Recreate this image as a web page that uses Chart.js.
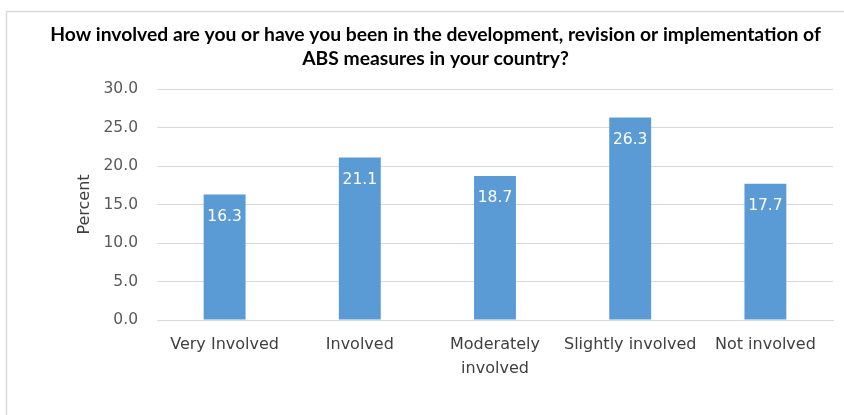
<!DOCTYPE html>
<html>
<head>
<meta charset="utf-8">
<script src="https://cdn.jsdelivr.net/npm/chart.js@4"></script>
<style>
  html, body { margin: 0; padding: 0; background: #ffffff; }
  #wrap { width: 844px; height: 415px; position: relative; }
</style>
</head>
<body>
<div id="wrap"><canvas id="chart" width="844" height="415"></canvas></div>
<script>
// Survey categories and the share of respondents (%) in each
const categories = ["Very Involved", "Involved", ["Moderately", "involved"], "Slightly involved", "Not involved"];
const percentValues = [16.3, 21.1, 18.7, 26.3, 17.7];
const yTicks = [0, 5, 10, 15, 20, 25, 30];

const titleLines = [
  "How involved are you or have you been in the development, revision or implementation of",
  "ABS measures in your country?"
];

const BAR_BLUE = "#5b9bd5";
const TICK_GREY = "#595959";
const LABEL_GREY = "#404040";
const GRID_GREY = "#d9d9d9";
const NUM_FONT = "DejaVu Sans";

// Light frame around the chart
const framePlugin = {
  id: "frame",
  beforeDraw(chart) {
    const ctx = chart.ctx;
    ctx.save();
    ctx.fillStyle = "#ffffff";
    ctx.fillRect(0, 0, chart.width, chart.height);
    ctx.strokeStyle = "#d9d9d9";
    ctx.lineWidth = 1.5;
    ctx.strokeRect(6.5, 11.5, chart.width + 10, chart.height + 10);
    ctx.restore();
  }
};

// Two-line bold heading, centred over the plot
const headingPlugin = {
  id: "heading",
  afterDraw(chart) {
    const ctx = chart.ctx;
    ctx.save();
    ctx.fillStyle = "#000000";
    ctx.font = "bold 19.3px Lato";
    ctx.textAlign = "center";
    ctx.textBaseline = "alphabetic";
    const cx = 435.5;
    titleLines.forEach((line, i) => ctx.fillText(line, cx, 41 + i * 23.5));
    ctx.restore();
  }
};

// Value labels printed in white just inside the top of each bar
const valueLabelPlugin = {
  id: "valueLabels",
  afterDatasetsDraw(chart) {
    const ctx = chart.ctx;
    const meta = chart.getDatasetMeta(0);
    const data = chart.data.datasets[0].data;
    ctx.save();
    ctx.fillStyle = "#ffffff";
    ctx.font = "15.5px '" + NUM_FONT + "'";
    ctx.textAlign = "center";
    ctx.textBaseline = "middle";
    meta.data.forEach((bar, i) => {
      ctx.fillText(data[i].toFixed(1), bar.x, bar.y + 22);
    });
    ctx.restore();
  }
};

new Chart(document.getElementById("chart"), {
  type: "bar",
  data: {
    labels: categories,
    datasets: [{
      data: percentValues,
      backgroundColor: BAR_BLUE,
      borderWidth: 0,
      categoryPercentage: 1.0,
      barPercentage: 0.31
    }]
  },
  options: {
    responsive: false,
    animation: false,
    layout: { padding: { left: 0, right: 11, top: 89, bottom: 0 } },
    plugins: {
      legend: { display: false },
      tooltip: { enabled: false },
      title: { display: false }
    },
    scales: {
      y: {
        min: 0,
        max: 30,
        afterBuildTicks(scale) {
          scale.ticks = yTicks.map(v => ({ value: v }));
        },
        afterFit(scale) { scale.width = 157; },
        grid: { color: GRID_GREY, lineWidth: 1, drawTicks: false },
        border: { display: false },
        ticks: {
          color: TICK_GREY,
          font: { family: NUM_FONT, size: 15.5 },
          padding: 19,
          callback: v => Number(v).toFixed(1)
        },
        title: {
          display: true,
          text: "Percent",
          color: LABEL_GREY,
          font: { family: NUM_FONT, size: 16 },
          padding: { top: 75, bottom: 0 }
        }
      },
      x: {
        afterFit(scale) { scale.height = 95; },
        grid: { display: false, drawTicks: false },
        border: { display: true, color: GRID_GREY, width: 1 },
        ticks: {
          color: LABEL_GREY,
          font: { family: NUM_FONT, size: 16, lineHeight: "24px" },
          padding: 13,
          maxRotation: 0,
          minRotation: 0,
          autoSkip: false
        }
      }
    }
  },
  plugins: [framePlugin, valueLabelPlugin, headingPlugin]
});
</script>
</body>
</html>
